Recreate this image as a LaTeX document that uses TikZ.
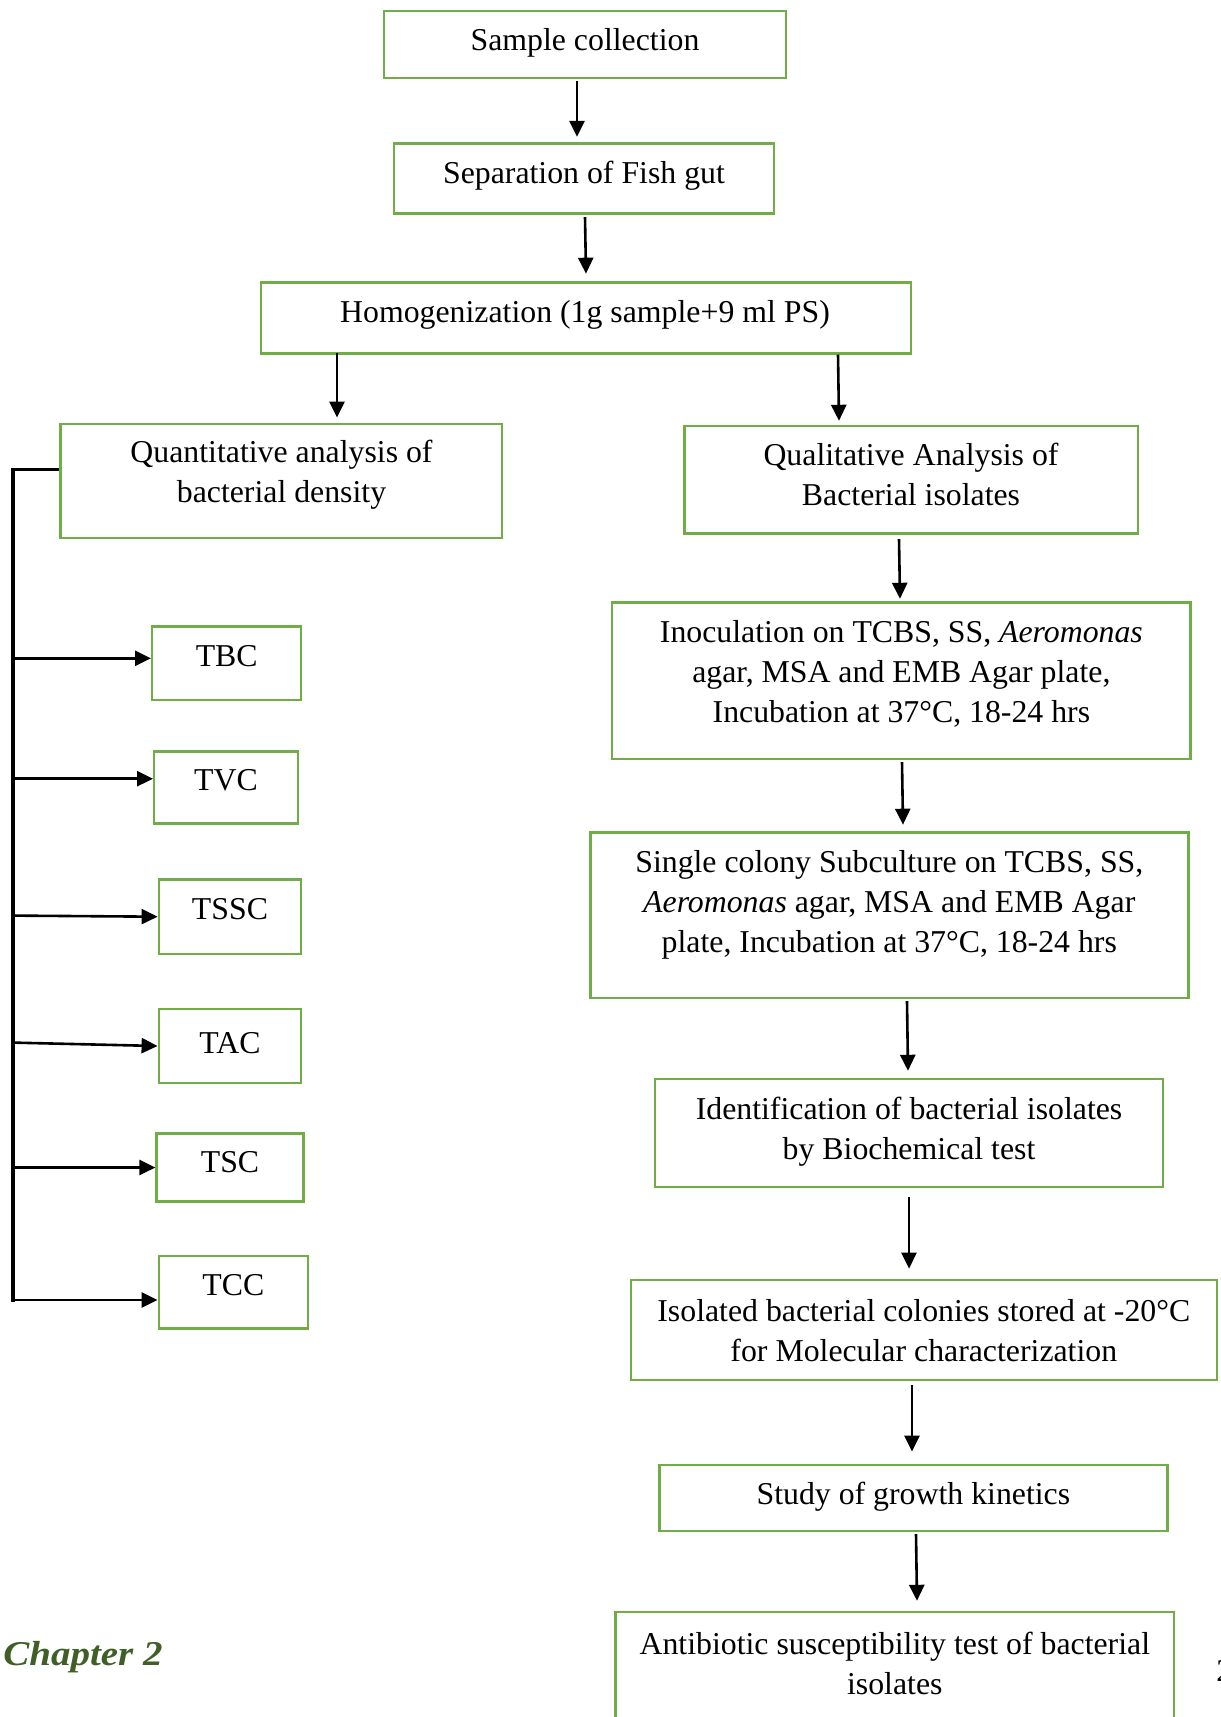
\documentclass[tikz,border=0pt]{standalone}
\usepackage{fontspec}
\setmainfont{Liberation Serif}
\usetikzlibrary{arrows.meta,calc}
\definecolor{boxgreen}{HTML}{70AD47}
\definecolor{chapgreen}{HTML}{3F5F26}
\begin{document}
\begin{tikzpicture}[x=0.5pt,y=-0.5pt,
  box/.style={draw=boxgreen, line width=1.2pt, rectangle, inner sep=0pt},
  txt/.style={font=\fontsize{15.9}{20}\selectfont, align=center, inner sep=0pt},
  arr/.style={-{Triangle[length=8pt,width=7.5pt]}, line width=1.3pt},
  brk/.style={line width=1.7pt}]
\useasboundingbox (0,0) rectangle (1220,1717);

% right column boxes
\node[box, minimum width=201pt, minimum height=33.5pt] (b1) at (585,44.5) {};
\node[box, minimum width=190pt, minimum height=35pt] (b2) at (584,178.5) {};
\node[box, minimum width=325.25pt, minimum height=35.5pt] (b3) at (586,318) {};
\node[box, minimum width=220.7pt, minimum height=57pt] (b4) at (281,480.8) {};
\node[box, minimum width=226.7pt, minimum height=53.7pt] (b5) at (911,479.7) {};
\node[box, minimum width=289.15pt, minimum height=78.3pt] (b6) at (901.4,680.7) {};
\node[box, minimum width=299pt, minimum height=82.7pt] (b7) at (889.3,915) {};
\node[box, minimum width=254pt, minimum height=54.2pt] (b8) at (909,1133) {};
\node[box, minimum width=293pt, minimum height=49.85pt] (b9) at (923.8,1330) {};
\node[box, minimum width=254.1pt, minimum height=32.85pt] (b10) at (913.4,1498) {};
\node[box, minimum width=279.25pt, minimum height=64pt] (b11) at (894.8,1676) {};

% left boxes
\node[box, minimum width=74.5pt, minimum height=36.7pt] (tbc) at (226.7,663) {};
\node[box, minimum width=71.75pt, minimum height=36.15pt] (tvc) at (226,787.5) {};
\node[box, minimum width=71.2pt, minimum height=37.25pt] (tssc) at (230,916.7) {};
\node[box, minimum width=71.2pt, minimum height=37.25pt] (tac) at (230,1046) {};
\node[box, minimum width=73.4pt, minimum height=33.95pt] (tsc) at (230,1167.5) {};
\node[box, minimum width=74.5pt, minimum height=36.15pt] (tcc) at (233.3,1292.3) {};

% texts
\node[txt] (t1) at (585,43) {Sample collection};
\node[txt] (t2) at (584,176) {Separation of Fish gut};
\node[txt] (t3) at (585,315) {Homogenization (1g sample+9 ml PS)};
\node[txt] (t4) at (281.5,475) {Quantitative analysis of\\bacterial density};
\node[txt] (t5) at (911,474) {Qualitative Analysis of\\Bacterial isolates};
\node[txt] (t6) at (901.4,674) {Inoculation on TCBS, SS, \textit{Aeromonas}\\agar, MSA and EMB Agar plate,\\Incubation at 37°C, 18-24 hrs};
\node[txt] (t7) at (889.3,905) {Single colony Subculture on TCBS, SS,\\\textit{Aeromonas} agar, MSA and EMB Agar\\plate, Incubation at 37°C, 18-24 hrs};
\node[txt] (t8) at (909,1132) {Identification of bacterial isolates\\by Biochemical test};
\node[txt] (t9) at (923.8,1331) {Isolated bacterial colonies stored at -20°C\\for Molecular characterization};
\node[txt] (t10) at (913.4,1497) {Study of growth kinetics};
\node[txt] (t11) at (894.8,1663) {Antibiotic susceptibility test of bacterial\\isolates};

\node[txt] (ttbc) at (226.7,656) {TBC};
\node[txt] (ttvc) at (226,780) {TVC};
\node[txt] (ttssc) at (230,909) {TSSC};
\node[txt] (ttac) at (230,1043.5) {TAC};
\node[txt] (ttsc) at (230,1162.5) {TSC};
\node[txt] (ttcc) at (233.3,1285.5) {TCC};

% main arrows
\draw[arr] ($(b1.south)+(-8,2)$) -- ($(b2.north)+(-7,-5.5)$);
\draw[arr] ($(b2.south)+(1,2.4)$) -- ($(b3.north)+(0,-7.6)$);
\draw[arr] ($(b4.north |- b3.south)+(56,-2)$) -- ($(b4.north)+(56,-5)$);
\draw[arr] ($(b5.north |- b3.south)+(-73,0)$) -- ($(b5.north)+(-72,-4)$);
\draw[arr] ($(b5.south)+(-12,4.6)$) -- ($(b6.north)+(-1.4,-2.4)$);
\draw[arr] ($(b6.south)+(0.6,2)$) -- ($(b7.north)+(13.7,-6.4)$);
\draw[arr] ($(b7.south)+(17.7,2.3)$) -- ($(b8.north)+(-1,-6.8)$);
\draw[arr] ($(b8.south)+(0,8.8)$) -- ($(b9.north)+(-14.8,-10.3)$);
\draw[arr] ($(b9.south)+(-11.8,4)$) -- ($(b10.north)+(-1.4,-12.4)$);
\draw[arr] ($(b10.south)+(2.6,2)$) -- ($(b11.north)+(22.2,-10)$);

% bracket
\coordinate (k0) at (13,469.3);
\coordinate (k1) at (13,658.3);
\coordinate (k2) at (13,778.7);
\coordinate (k3) at (13,915.6);
\coordinate (k4) at (13,1042.6);
\coordinate (k5) at (13,1167.5);
\coordinate (k6) at (13,1300);
\coordinate (kend) at (13,1301.5);
\draw[brk] (b4.west |- k0) -- (k0) -- (kend);
\draw[arr] (k1) -- (k1 -| tbc.west);
\draw[arr] (k2) -- (k2 -| tvc.west);
\draw[arr] (k3) -- (tssc.west);
\draw[arr] (k4) -- (tac.west);
\draw[arr] (k5) -- (k5 -| tsc.west);
\draw[arr] (k6) -- (k6 -| tcc.west);

% footer
\node[anchor=base west, inner sep=0pt, text=chapgreen, font=\fontsize{17.4}{20}\selectfont] (chap) at (3,1665) {\scalebox{1.12}[1]{\bfseries\itshape Chapter 2}};
\node[anchor=base west, inner sep=0pt, font=\fontsize{15.9}{20}\selectfont] (pnum) at (1216,1681) {2};
\end{tikzpicture}
\end{document}
